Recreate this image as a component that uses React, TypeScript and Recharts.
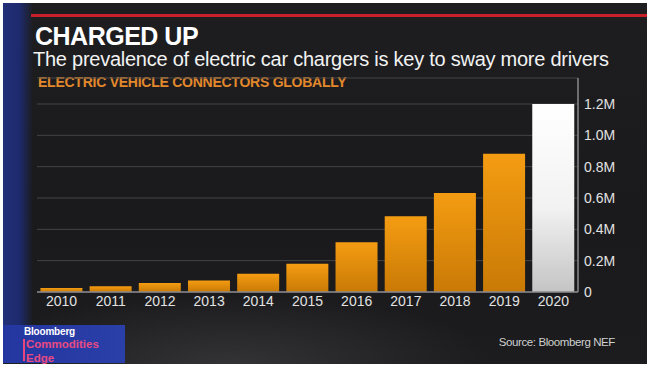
import React from "react";
import { BarChart, Bar, XAxis, YAxis, CartesianGrid, Cell } from "recharts";

const years = ["2010", "2011", "2012", "2013", "2014", "2015", "2016", "2017", "2018", "2019", "2020"];
// connectors, millions
const connectors = [0.026, 0.036, 0.057, 0.074, 0.117, 0.18, 0.317, 0.483, 0.632, 0.883, 1.2];
const yTicks = [0, 0.2, 0.4, 0.6, 0.8, 1.0, 1.2];

const data = years.map((year, i) => ({ year, value: connectors[i] }));

const font = "'Liberation Sans', Arial, Helvetica, sans-serif";

const fmt = (v: number) => (v === 0 ? "0" : `${v.toFixed(1)}M`);

export default function App() {
  return (
    <div
      style={{
        position: "absolute",
        left: 0,
        top: 0,
        width: 650,
        height: 368,
        background: "#ffffff",
        fontFamily: font,
        overflow: "hidden",
      }}
    >
      <svg width={0} height={0} style={{ position: "absolute" }}>
        <defs>
          <linearGradient id="orangeGrad" x1="0" y1="0" x2="0" y2="1">
            <stop offset="0%" stopColor="#f49c12" />
            <stop offset="100%" stopColor="#c97a06" />
          </linearGradient>
          <linearGradient id="whiteGrad" x1="0" y1="0" x2="0" y2="1">
            <stop offset="0%" stopColor="#ffffff" />
            <stop offset="55%" stopColor="#f2f2f2" />
            <stop offset="100%" stopColor="#c4c4c4" />
          </linearGradient>
        </defs>
      </svg>

      {/* panel */}
      <div
        style={{
          position: "absolute",
          left: 3,
          top: 3,
          width: 644,
          height: 361,
          background:
            "radial-gradient(ellipse 260px 70px at 230px 361px, #333336 0%, rgba(30,30,32,0) 100%), linear-gradient(180deg, #1e1e21 0%, #1a1a1c 60%, #1c1c1e 100%)",
        }}
      />
      {/* left blue strip */}
      <div
        style={{
          position: "absolute",
          left: 3,
          top: 3,
          width: 30,
          height: 322,
          background: "linear-gradient(90deg, #22307a 0%, #1d2a6c 55%, rgba(28,28,30,0) 100%)",
        }}
      />
      {/* red rule */}
      <div style={{ position: "absolute", left: 31, top: 14, width: 616, height: 3, background: "#c8202a" }} />

      <div
        style={{
          position: "absolute",
          left: 35,
          top: 25,
          color: "#ffffff",
          fontSize: 25,
          fontWeight: 700,
          letterSpacing: -0.5,
          lineHeight: "22px",
          whiteSpace: "nowrap",
        }}
      >
        CHARGED UP
      </div>
      <div
        style={{
          position: "absolute",
          left: 33,
          top: 49,
          color: "#f2f2f2",
          fontSize: 20,
          letterSpacing: -0.25,
          lineHeight: "21px",
          whiteSpace: "nowrap",
        }}
      >
        The prevalence of electric car chargers is key to sway more drivers
      </div>
      <div
        style={{
          position: "absolute",
          left: 38,
          top: 74,
          color: "#e3892c",
          fontSize: 14,
          fontWeight: 700,
          letterSpacing: -0.25,
          lineHeight: "16px",
          whiteSpace: "nowrap",
        }}
      >
        ELECTRIC VEHICLE CONNECTORS GLOBALLY
      </div>

      <div style={{ position: "absolute", left: 0, top: 0 }}>
        <BarChart
          width={650}
          height={368}
          data={data}
          margin={{ top: 78, right: 12, bottom: 46, left: 37 }}
          barCategoryGap="7%"
        >
          <CartesianGrid horizontal vertical={false} stroke="#444447" strokeWidth={1} />
          <XAxis
            dataKey="year"
            axisLine={{ stroke: "#8a8a8e", strokeWidth: 1.5 }}
            tickLine={false}
            tickSize={0}
            tickMargin={4}
            height={30}
            tick={{ fill: "#e2e2e2", fontSize: 14, fontFamily: font }}
            interval={0}
          />
          <YAxis
            orientation="right"
            width={60}
            domain={[0, 1.366]}
            ticks={yTicks}
            tickFormatter={fmt}
            axisLine={{ stroke: "#8a8a8e", strokeWidth: 1.5 }}
            tickLine={false}
            tickSize={0}
            tickMargin={6}
            tick={{ fill: "#e2e2e2", fontSize: 14, fontFamily: font, textAnchor: "start" }}
            allowDataOverflow
          />
          <Bar dataKey="value" isAnimationActive={false}>
            {data.map((d, i) => (
              <Cell key={d.year} fill={i === data.length - 1 ? "url(#whiteGrad)" : "url(#orangeGrad)"} />
            ))}
          </Bar>
        </BarChart>
      </div>

      {/* logo */}
      <div
        style={{
          position: "absolute",
          left: 3,
          top: 325,
          width: 122,
          height: 38,
          background: "linear-gradient(90deg, #2436a0 0%, #2b3fa8 100%)",
        }}
      />
      <div style={{ position: "absolute", left: 23, top: 339, width: 1.5, height: 22, background: "#e8457f" }} />
      <div
        style={{
          position: "absolute",
          left: 24,
          top: 325.5,
          color: "#ffffff",
          fontSize: 10,
          fontWeight: 700,
          letterSpacing: -0.2,
          lineHeight: "11px",
        }}
      >
        Bloomberg
      </div>
      <div
        style={{
          position: "absolute",
          left: 26,
          top: 338,
          color: "#ea4a82",
          fontSize: 11.5,
          fontWeight: 700,
          letterSpacing: 0,
          lineHeight: "12px",
        }}
      >
        Commodities
      </div>
      <div
        style={{
          position: "absolute",
          left: 26,
          top: 351.5,
          color: "#ea4a82",
          fontSize: 11.5,
          fontWeight: 700,
          letterSpacing: 0,
          lineHeight: "12px",
        }}
      >
        Edge
      </div>

      <div
        style={{
          position: "absolute",
          right: 35,
          top: 335,
          color: "#cfcfcf",
          fontSize: 11.5,
          letterSpacing: -0.4,
          lineHeight: "14px",
          whiteSpace: "nowrap",
        }}
      >
        Source: Bloomberg NEF
      </div>
    </div>
  );
}
